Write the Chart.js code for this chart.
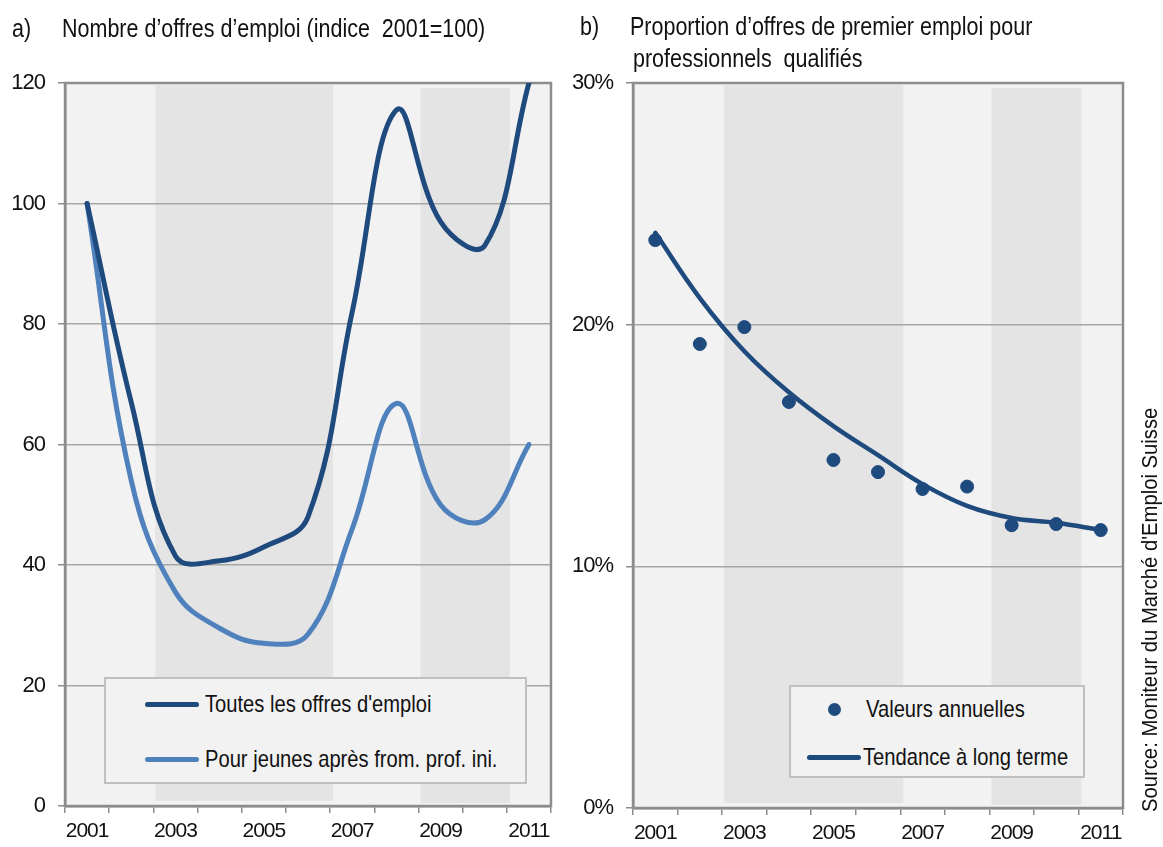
<!DOCTYPE html>
<html><head><meta charset="utf-8">
<script src="https://cdn.jsdelivr.net/npm/chart.js@4.4.1/dist/chart.umd.min.js"></script>
<style>
body{margin:0;width:1163px;height:847px;background:#fff;position:relative;overflow:hidden;font-family:'Liberation Sans',Arial,sans-serif;color:#111}
.t{position:absolute;white-space:nowrap;line-height:30px;font-size:25px;transform-origin:0 50%;transform:scaleX(0.86)}
canvas{position:absolute;top:0}
.box{position:absolute;border:2px solid #c0c0c0;background:#f2f2f2}
.smp{position:absolute;height:5px;border-radius:3px}
.lg{position:absolute;white-space:nowrap;font-size:24px;line-height:26px;transform-origin:0 50%;transform:scaleX(0.84)}
</style></head><body>
<canvas id="ca" width="580" height="847" style="left:0"></canvas>
<canvas id="cb" width="623" height="847" style="left:540px"></canvas>

<div class="t" style="left:12px;top:13px">a)</div>
<div class="t" style="left:62px;top:13px">Nombre d’offres d’emploi (indice&nbsp; 2001=100)</div>
<div class="t" style="left:580px;top:11px">b)</div>
<div class="t" style="left:630px;top:11px">Proportion d’offres de premier emploi pour</div>
<div class="t" style="left:633px;top:43px">professionnels&nbsp; qualifiés</div>

<div class="box" style="left:104px;top:677px;width:419px;height:103px"></div>
<div class="smp" style="left:145px;top:702px;width:54px;background:#1f4a7e"></div>
<div class="lg" style="left:205px;top:691px">Toutes les offres d'emploi</div>
<div class="smp" style="left:145px;top:757px;width:54px;background:#4f81bd"></div>
<div class="lg" style="left:205px;top:746px">Pour jeunes après from. prof. ini.</div>

<div class="box" style="left:789px;top:685px;width:292px;height:89px"></div>
<div style="position:absolute;left:828px;top:703px;width:13px;height:13px;border-radius:50%;background:#1f4a7e"></div>
<div class="lg" style="left:866px;top:696px">Valeurs annuelles</div>
<div class="smp" style="left:807px;top:755px;width:54px;background:#1f4a7e"></div>
<div class="lg" style="left:863px;top:744px">Tendance à long terme</div>

<div style="position:absolute;white-space:nowrap;left:1137px;top:812px;font-size:22px;line-height:26px;transform-origin:0 0;transform:rotate(-90deg) scaleX(0.92)">Source: Moniteur du Marché d'Emploi Suisse</div>

<script>
const years = ['2001','2002','2003','2004','2005','2006','2007','2008','2009','2010','2011'];
const allOffers = [100, 67, 41.5, 40.7, 43, 48, 82, 115.5, 97, 93, 120];
const youthOffers = [100, 54, 35.5, 29.5, 27, 28.5, 46, 66.8, 50, 47.5, 60];
const annualShare = [23.5, 19.2, 19.9, 16.8, 14.4, 13.9, 13.2, 13.3, 11.7, 11.75, 11.5];
const trendShare = [23.8, 21.1, 18.9, 17.2, 15.8, 14.6, 13.4, 12.5, 12.0, 11.8, 11.5];
const shadedPeriods = [['2003','2006'],['2009','2010']];
const leftTicks = [0, 120, 20];
const rightTicks = [0, 30, 10];

const DARK = '#1f4a7e', LIGHT = '#4f81bd', AXIS = '#8c8c8c', GRID = '#a6a6a6';
const FONT = "'Liberation Sans',Arial,sans-serif";

const bgPlugin = {
  id: 'bg',
  beforeDraw(chart) {
    const {ctx, chartArea: a, scales: {x}} = chart;
    ctx.letterSpacing = '-1px';
    ctx.save();
    ctx.fillStyle = '#f2f2f2';
    ctx.fillRect(a.left, a.top, a.right - a.left, a.bottom - a.top);
    const half = (x.getPixelForValue(1) - x.getPixelForValue(0)) / 2;
    ctx.fillStyle = '#e4e4e4';
    shadedPeriods.forEach(([s, e], k) => {
      const x0 = x.getPixelForValue(years.indexOf(s)) - half + 2;
      const x1 = x.getPixelForValue(years.indexOf(e)) + half + 3;
      const inset = k === 0 ? 2 : 5;
      ctx.fillRect(x0, a.top + inset, x1 - x0, a.bottom - a.top - inset - (k === 0 ? 5 : 3));
    });
    ctx.restore();
  },
  beforeDatasetsDraw(chart) {
    const {ctx, chartArea: a} = chart;
    ctx.save();
    ctx.strokeStyle = AXIS;
    ctx.lineWidth = 2.5;
    ctx.strokeRect(a.left, a.top, a.right - a.left, a.bottom - a.top);
    ctx.restore();
  }
};

function scales(yCfg, yWidth, xHeight) {
  return {
    x: {
      type: 'category', offset: true,
      afterFit: s => { s.height = xHeight; },
      grid: { offset: true, drawOnChartArea: false, drawTicks: true, tickLength: 7, color: AXIS, lineWidth: 1.5 },
      border: { display: true, color: AXIS, width: 2.5 },
      ticks: { autoSkip: false, maxRotation: 0, padding: 6, color: '#111', font: { family: FONT, size: 21 },
               callback: (v, i) => (i % 2 === 0 ? years[i] : '') }
    },
    y: Object.assign({
      afterFit: s => { s.width = yWidth; },
      grid: { color: GRID, lineWidth: 1.5, tickLength: 7, tickColor: AXIS },
      border: { display: true, color: AXIS, width: 2.5 },
    }, yCfg)
  };
}

Chart.defaults.animation = false;
Chart.defaults.font.family = FONT;

new Chart(document.getElementById('ca'), {
  type: 'line',
  data: {
    labels: years,
    datasets: [
      { label: "Toutes les offres d'emploi", data: allOffers, borderColor: DARK, borderWidth: 5, tension: 0.4, pointRadius: 0, borderCapStyle: 'round', borderJoinStyle: 'round' },
      { label: 'Pour jeunes après from. prof. ini.', data: youthOffers, borderColor: LIGHT, borderWidth: 5, tension: 0.4, pointRadius: 0, borderCapStyle: 'round', borderJoinStyle: 'round' }
    ]
  },
  options: {
    responsive: false,
    layout: { padding: { top: 83, right: 29, left: 0, bottom: 0 } },
    plugins: { legend: { display: false }, tooltip: { enabled: false } },
    scales: scales({
      min: leftTicks[0], max: leftTicks[1],
      ticks: { stepSize: leftTicks[2], padding: 13, color: '#111', font: { family: FONT, size: 22 } }
    }, 65, 41)
  },
  plugins: [bgPlugin]
});

new Chart(document.getElementById('cb'), {
  type: 'line',
  data: {
    labels: years,
    datasets: [
      { label: 'Valeurs annuelles', data: annualShare, showLine: false, pointRadius: 6.5, pointBackgroundColor: DARK, pointBorderColor: DARK, borderColor: DARK },
      { label: 'Tendance à long terme', data: trendShare, borderColor: DARK, borderWidth: 4.5, tension: 0.4, pointRadius: 0, borderCapStyle: 'round' }
    ]
  },
  options: {
    responsive: false,
    layout: { padding: { top: 83, right: 40, left: 0, bottom: 0 } },
    plugins: { legend: { display: false }, tooltip: { enabled: false } },
    scales: scales({
      min: rightTicks[0], max: rightTicks[1],
      ticks: { stepSize: rightTicks[2], padding: 13, color: '#111', font: { family: FONT, size: 22 }, callback: v => v + '%' }
    }, 93, 39)
  },
  plugins: [bgPlugin]
});
</script>
</body></html>
